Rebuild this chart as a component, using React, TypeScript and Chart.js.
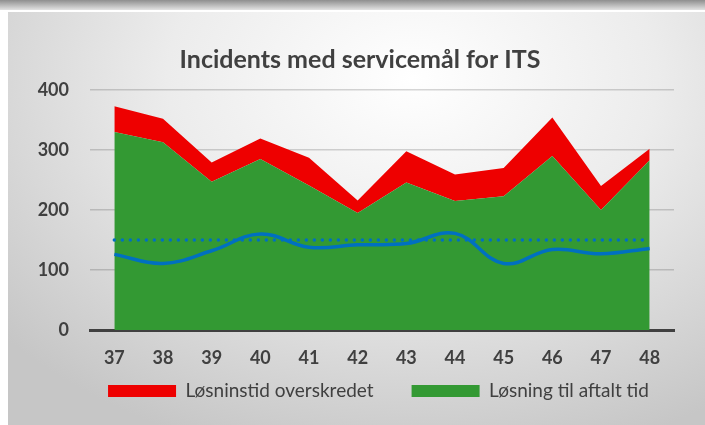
import React, { useEffect, useRef } from "react";
import { Chart, registerables } from "chart.js";

Chart.register(...registerables);

const weeks = ["37", "38", "39", "40", "41", "42", "43", "44", "45", "46", "47", "48"];
const onTime = [330, 313, 247, 285, 241, 195, 246, 215, 223, 290, 200, 283];
const exceeded = [43, 39, 32, 34, 46, 21, 52, 44, 47, 64, 40, 19];
const avgTime = [126, 111, 132, 160, 138, 142, 144, 161, 111, 134, 127, 136];
const target = [150, 150, 150, 150, 150, 150, 150, 150, 150, 150, 150, 150];
const yTicks = [0, 100, 200, 300, 400];

const TEXT = "#404040";
const FONT = "Lato";

const placeBoxes = {
  id: "placeBoxes",
  afterLayout(chart: any) {
    const t = chart.titleBlock;
    if (t) {
      t.left = 0;
      t.right = 704;
    }
    const lg = chart.legend;
    if (lg) {
      const shift = 37.5;
      lg.left += shift;
      lg.right += shift;
      const h = lg.bottom - lg.top;
      lg.top = 331.5;
      lg.bottom = 331.5 + h;
    }
    const x = chart.scales.x;
    if (x) {
      x.bottom = 413;
      x.height = x.bottom - x.top;
    }
  },
};

export default function App() {
  const ref = useRef<HTMLCanvasElement | null>(null);
  useEffect(() => {
    if (!ref.current) return;
    const chart = new Chart(ref.current, {
      type: "line",
      data: {
        labels: weeks,
        datasets: [
          {
            label: "Løsning til aftalt tid",
            data: onTime,
            backgroundColor: "#339933",
            borderColor: "#339933",
            borderWidth: 0,
            fill: "origin",
            pointRadius: 0,
            tension: 0,
            stack: "areas",
            order: 1,
          },
          {
            label: "Løsninstid overskredet",
            data: exceeded,
            backgroundColor: "#EE0000",
            borderColor: "#EE0000",
            borderWidth: 0,
            fill: "-1",
            pointRadius: 0,
            tension: 0,
            stack: "areas",
            order: 1,
          },
          {
            label: "Gennemsnit",
            data: avgTime,
            borderColor: "#0070C0",
            backgroundColor: "#0070C0",
            borderWidth: 3.5,
            fill: false,
            pointRadius: 0,
            tension: 0.4,
            stack: "avg",
            order: 0,
          },
          {
            label: "Mål",
            data: target,
            borderColor: "#0070C0",
            backgroundColor: "#0070C0",
            borderWidth: 3.5,
            borderDash: [0, 8],
            borderCapStyle: "round",
            fill: false,
            pointRadius: 0,
            tension: 0,
            stack: "target",
            order: 0,
          },
        ],
      },
      options: {
        responsive: false,
        animation: false,
        devicePixelRatio: 1,
        layout: { padding: { left: 0, right: 31, top: 0, bottom: 0 } },
        plugins: {
          tooltip: { enabled: false },
          title: {
            display: true,
            text: "Incidents med servicemål for ITS",
            color: TEXT,
            font: { family: FONT, size: 25, weight: "bold" },
            padding: { top: 33, bottom: 15 },
          },
          legend: {
            display: true,
            position: "bottom",
            labels: {
              color: TEXT,
              font: { family: FONT, size: 19 },
              boxWidth: 68,
              boxHeight: 12,
              padding: 38,
              filter: (item: any) => item.datasetIndex < 2,
              sort: (a: any, b: any) => b.datasetIndex - a.datasetIndex,
            },
          },
        },
        scales: {
          x: {
            offset: true,
            grid: { display: false, drawTicks: false },
            border: { display: true, color: "#404040", width: 3 },
            ticks: {
              color: TEXT,
              font: { family: FONT, size: 18, weight: "bold" },
              padding: 17,
              maxRotation: 0,
            },
            afterFit: (s: any) => {
              s.height = 28;
            },
          },
          y: {
            stacked: true,
            min: 0,
            max: 400,
            afterBuildTicks: (s: any) => {
              s.ticks = yTicks.map((v) => ({ value: v }));
            },
            grid: { color: "rgba(0,0,0,0.16)", lineWidth: 1.5, drawTicks: false },
            border: { display: false },
            ticks: {
              color: TEXT,
              font: { family: FONT, size: 18, weight: "bold" },
              padding: 21,
            },
            afterFit: (s: any) => {
              s.width = 82;
            },
          },
        },
      },
      plugins: [placeBoxes],
    });
    return () => chart.destroy();
  }, []);

  return (
    <div
      style={{
        position: "fixed",
        left: 0,
        top: 0,
        width: 705,
        height: 425,
        background: "#ffffff",
        overflow: "hidden",
      }}
    >
      <div
        style={{
          position: "absolute",
          left: 0,
          top: 0,
          width: 705,
          height: 10,
          background: "linear-gradient(#8e8e8e, #e2e2e2)",
        }}
      />
      <div
        style={{
          position: "absolute",
          left: 8,
          top: 12,
          width: 697,
          height: 413,
          background:
            "radial-gradient(ellipse 78% 95% at 58% 16%, #ffffff 0%, #ececec 45%, #c6c6c6 100%)",
        }}
      >
        <canvas ref={ref} width={697} height={413} style={{ display: "block", width: 697, height: 413 }} />
      </div>
    </div>
  );
}
